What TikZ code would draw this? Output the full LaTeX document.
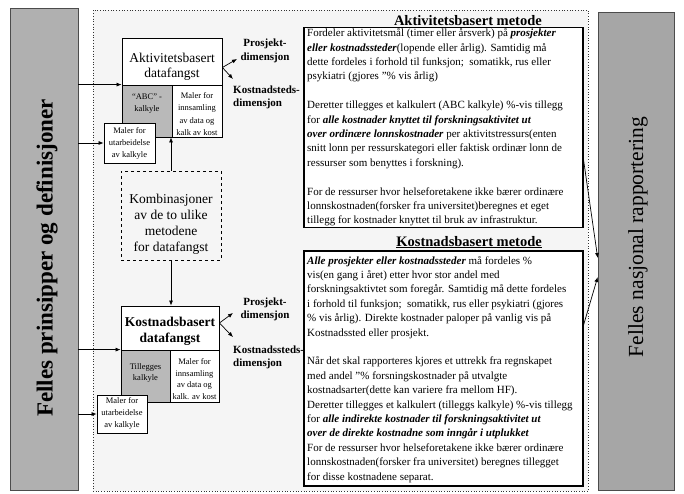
\documentclass[tikz,border=0pt]{standalone}
\usepackage{fontspec}
\setmainfont{Liberation Serif}
\usetikzlibrary{arrows.meta}
\newcommand{\bfit}[1]{\textbf{\textit{#1}}}
\begin{document}
\begin{tikzpicture}[x=1pt,y=-1pt,
  bar/.style={draw=black!70, line width=0.6pt, fill=gray!62},
  panel/.style={draw=black!80, dotted, line width=0.7pt, fill=gray!8},
  cell/.style={draw=black, line width=0.8pt, fill=white, inner sep=0pt},
  shade/.style={draw=black, line width=0.8pt, fill=gray!55, inner sep=0pt},
  dbox/.style={draw=black, dashed, line width=0.8pt, inner sep=0pt},
  tbox/.style={draw=black, line width=1.1pt, fill=white, inner sep=0pt},
  small/.style={font=\fontsize{8.5}{12}\selectfont, align=center, inner sep=0pt},
  big/.style={font=\fontsize{13.5}{15.5}\selectfont, align=center, inner sep=0pt},
  lab/.style={font=\bfseries\fontsize{11}{13.5}\selectfont, inner sep=0pt},
  body/.style={font=\fontsize{11}{14.4}\selectfont, align=left, anchor=north west, inner sep=0pt},
  head/.style={font=\bfseries\fontsize{14.5}{16}\selectfont, inner sep=0pt, anchor=base east},
  vtext/.style={rotate=90, inner sep=0pt},
  arr/.style={-{Latex[length=5pt,width=4pt]}, line width=0.7pt},
]
\useasboundingbox (0,0) rectangle (684,494);
\fill[white] (0,0) rectangle (684,494);

% side bars
\node[bar, minimum width=68pt, minimum height=482pt] (lbar) at (44,249) {};
\node[vtext, font=\bfseries\fontsize{23}{26}\selectfont] (ltext) at (47,258) {Felles prinsipper og definisjoner};
\node[bar, fill=gray!70, minimum width=76pt, minimum height=478pt] (rbar) at (636,251) {};
\node[vtext, font=\fontsize{21.5}{24}\selectfont] (rtext) at (638,237) {Felles nasjonal rapportering};

% middle panel
\node[panel, minimum width=495pt, minimum height=481pt] (panel) at (340.5,250.5) {};

% upper group
\node[cell, minimum width=100pt, minimum height=47pt] (akt) at (172,61.5) {};
\node[big] (akttext) at (172,67) {Aktivitetsbasert\\datafangst};
\node[shade, minimum width=50pt, minimum height=52pt] (abc) at (147,111) {};
\node[small] (abctext) at (147,104) {“ABC” -\\kalkyle};
\node[cell, minimum width=50pt, minimum height=52pt] (amal) at (197,111) {};
\node[small, font=\fontsize{8.5}{12.6}\selectfont] (amaltext) at (197,114) {Maler for\\innsamling\\av data og\\kalk av kost};
\node[cell, minimum width=51pt, minimum height=40pt] (autb) at (129.5,143) {};
\node[small] (autbtext) at (129.5,143.5) {Maler for\\utarbeidelse\\av kalkyle};

% combination box
\node[dbox, minimum width=100pt, minimum height=89pt] (komb) at (171,215.5) {};
\node[big, font=\fontsize{13.5}{16}\selectfont] (kombtext) at (171,224) {Kombinasjoner\\av de to ulike\\metodene\\for datafangst};

% lower group
\node[cell, minimum width=98pt, minimum height=44pt] (kost) at (170,328) {};
\node[big, font=\bfseries\fontsize{13.5}{15.5}\selectfont] (kosttext) at (170,331.5) {Kostnadsbasert\\datafangst};
\node[shade, minimum width=49pt, minimum height=52pt] (till) at (145.5,376) {};
\node[small, font=\fontsize{8.5}{11}\selectfont] (tilltext) at (145.5,373) {Tillegges\\kalkyle};
\node[cell, minimum width=49pt, minimum height=52pt] (kmal) at (194.5,376) {};
\node[small, font=\fontsize{8.5}{11.8}\selectfont] (kmaltext) at (194.5,379) {Maler for\\innsamling\\av data og\\kalk. av kost};
\node[cell, minimum width=50pt, minimum height=38pt] (kutb) at (122,414) {};
\node[small] (kutbtext) at (122,413.5) {Maler for\\utarbeidelse\\av kalkyle};

% dimension labels
\node[lab, align=center] (p1) at (265,51) {Prosjekt-\\dimensjon};
\node[lab, align=left, anchor=west] (k1) at (233,97.5) {Kostnadsteds-\\dimensjon};
\node[lab, align=center] (p2) at (265,309.5) {Prosjekt-\\dimensjon};
\node[lab, align=left, anchor=west] (k2) at (233,357.5) {Kostnadssteds-\\dimensjon};
\coordinate (f1) at ([yshift=-6pt]akt.east);
\coordinate (f1a) at (237,59);
\coordinate (f1b) at (233,79);
\coordinate (f2) at ([yshift=5pt]kost.east);
\coordinate (f2a) at (233,313);
\coordinate (f2b) at (233,337);
\draw[arr] (f1) -- (f1a);
\draw[arr] (f1) -- (f1b);
\draw[arr] (f2) -- (f2a);
\draw[arr] (f2) -- (f2b);

% connectors from left bar and between boxes
\draw[arr] (lbar.east |- abc.north west) -- (abc.north west);
\draw[arr] (lbar.east |- autb.west) -- (autb.west);
\draw[arr] (lbar.east |- till.north west) -- (till.north west);
\draw[arr] (lbar.east |- kutb.west) -- (kutb.west);
\draw[arr] (komb.north) -- (komb.north |- abc.south);
\draw[arr] (komb.south) -- (komb.south |- kost.north);

% method text boxes
\node[head] (h1) at (542,26) {\underline{Aktivitetsbasert metode}};
\node[tbox, minimum width=279pt, minimum height=200pt] (b1) at (443.5,127.5) {};
\node[body] (b1text) at (307,28.5) {Fordeler aktivitetsmål (timer eller årsverk) på \bfit{prosjekter}\\
\bfit{eller kostnadssteder}(lopende eller årlig). Samtidig må\\
dette fordeles i forhold til funksjon;\ \ somatikk, rus eller\\
psykiatri (gjores "\% vis årlig)\\[14.4pt]
Deretter tillegges et kalkulert (ABC kalkyle) \%-vis tillegg\\
for \bfit{alle kostnader knyttet til forskningsaktivitet ut}\\
\bfit{over ordinære lonnskostnader} per aktivitstressurs(enten\\
snitt lonn per ressurskategori eller faktisk ordinær lonn de\\
ressurser som benyttes i forskning).\\[14.4pt]
For de ressurser hvor helseforetakene ikke bærer ordinære\\
lonnskostnaden(forsker fra universitet)beregnes et eget\\
tillegg for kostnader knyttet til bruk av infrastruktur.};

\node[head] (h2) at (542,246) {\underline{Kostnadsbasert metode}};
\node[tbox, minimum width=279pt, minimum height=235pt] (b2) at (443.5,368.5) {};
\node[body] (b2text) at (307,256) {\bfit{Alle prosjekter eller kostnadssteder} må fordeles \%\\
vis(en gang i året) etter hvor stor andel med\\
forskningsaktivtet som foregår. Samtidig må dette fordeles\\
i forhold til funksjon;\ \ somatikk, rus eller psykiatri (gjores\\
\% vis årlig). Direkte kostnader paloper på vanlig vis på\\
Kostnadssted eller prosjekt.\\[14.4pt]
Når det skal rapporteres kjores et uttrekk fra regnskapet\\
med andel "\% forsningskostnader på utvalgte\\
kostnadsarter(dette kan variere fra mellom HF).\\
Deretter tillegges et kalkulert (tilleggs kalkyle) \%-vis tillegg\\
for \bfit{alle indirekte kostnader til forskningsaktivitet ut}\\
\bfit{over de direkte kostnadne som inngår i utplukket}\\
For de ressurser hvor helseforetakene ikke bærer ordinære\\
lonnskostnaden(forsker fra universitet) beregnes tillegget\\
for disse kostnadene separat.};

% connectors to national reporting
\draw[arr] ([yshift=-32.5pt]b1.east) -- ([yshift=-7pt]rbar.west);
\draw[arr] ([yshift=43.5pt]b2.east) -- ([yshift=-26pt]rbar.west);
\end{tikzpicture}
\end{document}
